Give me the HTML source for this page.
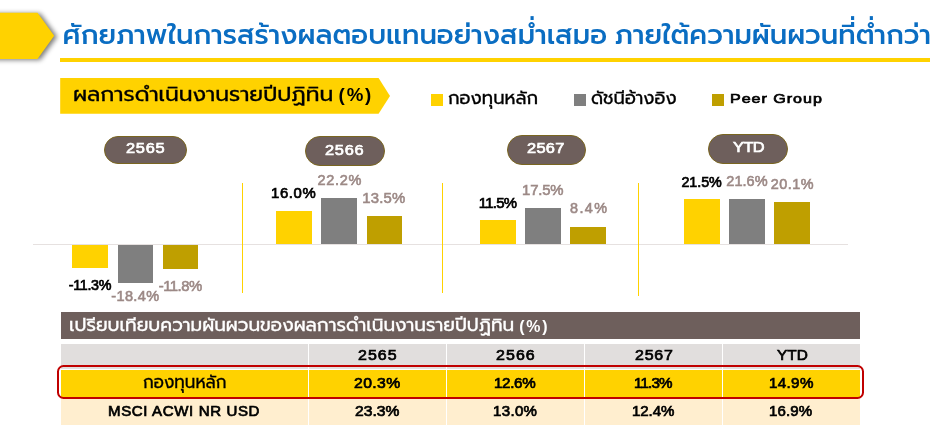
<!DOCTYPE html>
<html lang="th">
<head>
<meta charset="utf-8">
<title>ศักยภาพในการสร้างผลตอบแทนอย่างสม่ำเสมอ ภายใต้ความผันผวนที่ต่ำกว่า</title>
<style>
html,body{margin:0;padding:0;background:#fff;}
body{width:939px;height:442px;position:relative;overflow:hidden;
  font-family:"Liberation Sans","Prompt","Kanit","Noto Sans Thai",sans-serif;color:#000;}
.abs{position:absolute;}
.t{position:absolute;white-space:nowrap;line-height:1;}
/* Latin / numeric text fitted to the reference ink boxes */
.lt{position:absolute;white-space:nowrap;line-height:1;font-family:"Liberation Sans",sans-serif;font-weight:400;transform-origin:0 0;}
/* header */
#arrow{left:0;top:0;}
#title{left:62.5px;top:12.8px;font-size:27.45px;line-height:44px;color:#0a6dc2;font-weight:500;}
#rule{left:60px;top:58px;width:870px;height:3.6px;background:#ffd200;}
/* section tag */
#tag{left:60.2px;top:77.9px;width:329.8px;height:35.9px;background:#ffd200;
  clip-path:polygon(0 0,318.4px 0,329.8px 18px,318.4px 35.9px,0 35.9px);}
/* legend */
.sq{position:absolute;width:11.5px;height:11.5px;top:94.2px;}
.th{position:absolute;white-space:nowrap;line-height:1;transform-origin:0 0;}
/* pills */
.pill{position:absolute;box-sizing:border-box;background:#6e5f5c;border:1px solid #7a6620;border-radius:15px;}
/* chart */
.bar{position:absolute;}
.y{background:#ffd200;} .g{background:#7f7f7f;} .o{background:#bf9f00;}
.vl{position:absolute;width:1px;background:#ffd200;}
</style>
</head>
<body>
<svg class="abs" id="arrow" width="70" height="72" viewBox="0 0 70 72">
  <defs><filter id="sh" x="-20%" y="-20%" width="150%" height="150%"><feGaussianBlur stdDeviation="2.5"/></filter></defs>
  <polygon points="-8,13.6 40.3,13.6 57.2,36.7 40.3,59.9 -8,59.9" fill="#000" opacity=".52" filter="url(#sh)"/>
  <polygon points="-1,12.7 37.5,12.7 54.2,35.8 37.5,59 -1,59" fill="#ffd200"/>
</svg>
<div class="t" id="title">ศักยภาพในการสร้างผลตอบแทนอย่างสม่ำเสมอ ภายใต้ความผันผวนที่ต่ำกว่า</div>
<div class="abs" id="rule"></div>

<div class="abs" id="tag"></div>
<div class="th" style="left:72.60px;top:83.67px;font-size:20.27px;font-weight:400;color:#000;-webkit-text-stroke:0.3px #000;transform:scaleX(1.0786);">ผลการดำเนินงานรายปีปฏิทิน</div>
<div class="lt" style="left:338.61px;top:85.50px;font-size:18.70px;letter-spacing:1.80px;color:#000;font-weight:700;">(%)</div>

<div class="sq y" style="left:431px"></div>
<div class="th" style="left:448.17px;top:89.57px;font-size:17.73px;font-weight:400;color:#000;-webkit-text-stroke:0.3px #000;transform:scaleX(1.0209);">กองทุนหลัก</div>
<div class="sq g" style="left:574px"></div>
<div class="th" style="left:591.37px;top:89.62px;font-size:17.55px;font-weight:400;color:#000;-webkit-text-stroke:0.3px #000;transform:scaleX(1.0244);">ดัชนีอ้างอิง</div>
<div class="sq o" style="left:712.2px"></div>

<!-- year pills -->
<div class="pill" style="left:104px;top:135.8px;width:83px;height:28px"></div>
<div class="pill" style="left:305px;top:135.8px;width:80px;height:30px"></div>
<div class="pill" style="left:507px;top:134.9px;width:79px;height:29.8px"></div>
<div class="pill" style="left:708px;top:133.9px;width:80px;height:29.8px"></div>
<div class="lt" style="left:125.64px;top:141.10px;font-size:14.90px;letter-spacing:0.66px;color:#fff;-webkit-text-stroke:0.7px #fff;transform:scaleX(1.1);">2565</div>
<div class="lt" style="left:325.44px;top:142.70px;font-size:14.90px;letter-spacing:0.69px;color:#fff;-webkit-text-stroke:0.7px #fff;transform:scaleX(1.1);">2566</div>
<div class="lt" style="left:527.44px;top:141.10px;font-size:14.90px;letter-spacing:0.29px;color:#fff;-webkit-text-stroke:0.7px #fff;transform:scaleX(1.1);">2567</div>
<div class="lt" style="left:732.78px;top:140.00px;font-size:14.90px;letter-spacing:-0.50px;color:#fff;-webkit-text-stroke:0.7px #fff;transform:scaleX(1.1);">YTD</div>

<!-- axis + separators -->
<div class="abs" style="left:33.3px;top:244px;width:815.2px;height:1px;background:#e6e1e0"></div>
<div class="vl" style="left:242px;top:183.2px;height:109.7px"></div>
<div class="vl" style="left:442px;top:183.2px;height:109.7px"></div>
<div class="vl" style="left:638px;top:183.2px;height:112.6px"></div>

<!-- bars 2565 -->
<div class="bar y" style="left:72px;top:244.8px;width:36px;height:23.2px"></div>
<div class="bar g" style="left:118px;top:244.8px;width:35px;height:38px"></div>
<div class="bar o" style="left:163px;top:244.8px;width:35.2px;height:24.3px"></div>
<!-- bars 2566 -->
<div class="bar y" style="left:276px;top:210.8px;width:36px;height:33.2px"></div>
<div class="bar g" style="left:321px;top:198px;width:36.2px;height:46px"></div>
<div class="bar o" style="left:367px;top:215.9px;width:35.1px;height:28.1px"></div>
<!-- bars 2567 -->
<div class="bar y" style="left:480px;top:219.9px;width:36px;height:24.1px"></div>
<div class="bar g" style="left:525.1px;top:208px;width:36px;height:36px"></div>
<div class="bar o" style="left:570px;top:226.9px;width:36.1px;height:17.1px"></div>
<!-- bars YTD -->
<div class="bar y" style="left:684px;top:198.8px;width:36px;height:45.2px"></div>
<div class="bar g" style="left:729px;top:198.8px;width:36px;height:45.2px"></div>
<div class="bar o" style="left:774px;top:201.9px;width:36px;height:42.1px"></div>
<div class="lt" style="left:68.66px;top:278.30px;font-size:14.30px;letter-spacing:-0.29px;color:#000;-webkit-text-stroke:0.7px #000;">-11.3%</div>
<div class="lt" style="left:111.19px;top:289.10px;font-size:14.50px;letter-spacing:0.40px;color:#9c8986;-webkit-text-stroke:0.6px #9c8986;">-18.4%</div>
<div class="lt" style="left:158.78px;top:279.00px;font-size:14.90px;letter-spacing:-0.52px;color:#9c8986;-webkit-text-stroke:0.6px #9c8986;">-11.8%</div>
<div class="lt" style="left:271.03px;top:185.70px;font-size:14.90px;letter-spacing:0.63px;color:#000;-webkit-text-stroke:0.7px #000;">16.0%</div>
<div class="lt" style="left:317.41px;top:172.65px;font-size:14.50px;letter-spacing:0.69px;color:#9c8986;-webkit-text-stroke:0.6px #9c8986;">22.2%</div>
<div class="lt" style="left:362.13px;top:190.55px;font-size:14.90px;letter-spacing:0.25px;color:#9c8986;-webkit-text-stroke:0.6px #9c8986;">13.5%</div>
<div class="lt" style="left:478.63px;top:195.70px;font-size:14.90px;letter-spacing:-0.66px;color:#000;-webkit-text-stroke:0.7px #000;">11.5%</div>
<div class="lt" style="left:522.03px;top:182.60px;font-size:14.90px;letter-spacing:-0.17px;color:#9c8986;-webkit-text-stroke:0.6px #9c8986;">17.5%</div>
<div class="lt" style="left:570.09px;top:201.20px;font-size:14.40px;letter-spacing:1.35px;color:#9c8986;-webkit-text-stroke:0.6px #9c8986;">8.4%</div>
<div class="lt" style="left:681.39px;top:174.70px;font-size:14.30px;letter-spacing:-0.04px;color:#000;-webkit-text-stroke:0.7px #000;">21.5%</div>
<div class="lt" style="left:726.32px;top:173.50px;font-size:14.50px;letter-spacing:0.04px;color:#9c8986;-webkit-text-stroke:0.6px #9c8986;">21.6%</div>
<div class="lt" style="left:770.72px;top:177.20px;font-size:14.40px;letter-spacing:0.48px;color:#9c8986;-webkit-text-stroke:0.6px #9c8986;">20.1%</div>

<!-- table -->
<div class="abs" style="left:60.6px;top:312.1px;width:799.1px;height:27.3px;background:#6e5f5c"></div>
<div class="th" style="left:68.68px;top:316.72px;font-size:17.73px;font-weight:400;color:#fff;-webkit-text-stroke:0.3px #fff;transform:scaleX(1.0463);">เปรียบเทียบความผันผวนของผลการดำเนินงานรายปีปฏิทิน</div>
<div class="lt" style="left:519.15px;top:318.65px;font-size:15.90px;letter-spacing:1.83px;color:#fff;font-weight:700;">(%)</div>

<div class="abs" style="left:60.6px;top:343.5px;width:799.1px;height:25.3px;background:#e1dedd"></div>
<div class="abs" style="left:60.6px;top:370.1px;width:799.1px;height:26.5px;background:#ffd200"></div>
<div class="abs" style="left:60.6px;top:399.3px;width:799.1px;height:25.3px;background:#ffeecf"></div>
<div class="abs" style="left:307.8px;top:343px;width:1.2px;height:82px;background:#fff"></div>
<div class="abs" style="left:445.8px;top:343px;width:1.2px;height:82px;background:#fff"></div>
<div class="abs" style="left:583.9px;top:343px;width:1.2px;height:82px;background:#fff"></div>
<div class="abs" style="left:722px;top:343px;width:1.2px;height:82px;background:#fff"></div>
<div class="abs" style="left:57px;top:364.6px;width:807px;height:34.4px;box-sizing:border-box;border:2.4px solid #c00000;border-radius:6.5px"></div>
<div class="th" style="left:142.51px;top:373.67px;font-size:17.91px;font-weight:400;color:#000;-webkit-text-stroke:0.3px #000;transform:scaleX(0.9363);">กองทุนหลัก</div>
<div class="lt" style="left:358.25px;top:347.55px;font-size:14.50px;letter-spacing:0.92px;color:#000;-webkit-text-stroke:0.7px #000;transform:scaleX(1.1);">2565</div>
<div class="lt" style="left:496.05px;top:347.55px;font-size:14.50px;letter-spacing:0.98px;color:#000;-webkit-text-stroke:0.7px #000;transform:scaleX(1.1);">2566</div>
<div class="lt" style="left:634.75px;top:347.55px;font-size:14.50px;letter-spacing:0.70px;color:#000;-webkit-text-stroke:0.7px #000;transform:scaleX(1.1);">2567</div>
<div class="lt" style="left:776.76px;top:347.55px;font-size:14.50px;letter-spacing:0.02px;color:#000;-webkit-text-stroke:0.7px #000;transform:scaleX(1.06);">YTD</div>
<div class="lt" style="left:354.26px;top:375.65px;font-size:14.30px;letter-spacing:0.38px;color:#000;-webkit-text-stroke:0.7px #000;transform:scaleX(1.1);">20.3%</div>
<div class="lt" style="left:494.32px;top:375.65px;font-size:14.30px;letter-spacing:-0.30px;color:#000;-webkit-text-stroke:0.7px #000;transform:scaleX(1.06);">12.6%</div>
<div class="lt" style="left:633.82px;top:375.65px;font-size:14.30px;letter-spacing:-0.79px;color:#000;-webkit-text-stroke:0.7px #000;transform:scaleX(1.06);">11.3%</div>
<div class="lt" style="left:768.72px;top:375.65px;font-size:14.30px;letter-spacing:0.33px;color:#000;-webkit-text-stroke:0.7px #000;transform:scaleX(1.06);">14.9%</div>
<div class="lt" style="left:108.45px;top:403.60px;font-size:14.20px;letter-spacing:0.59px;color:#000;-webkit-text-stroke:0.7px #000;transform:scaleX(1.06);">MSCI ACWI NR USD</div>
<div class="lt" style="left:355.06px;top:403.60px;font-size:14.20px;letter-spacing:0.01px;color:#000;-webkit-text-stroke:0.7px #000;transform:scaleX(1.1);">23.3%</div>
<div class="lt" style="left:493.02px;top:403.60px;font-size:14.20px;letter-spacing:0.31px;color:#000;-webkit-text-stroke:0.7px #000;transform:scaleX(1.06);">13.0%</div>
<div class="lt" style="left:631.82px;top:403.60px;font-size:14.20px;letter-spacing:-0.05px;color:#000;-webkit-text-stroke:0.7px #000;transform:scaleX(1.06);">12.4%</div>
<div class="lt" style="left:769.42px;top:403.60px;font-size:14.20px;letter-spacing:0.10px;color:#000;-webkit-text-stroke:0.7px #000;transform:scaleX(1.06);">16.9%</div>
<div class="lt" style="left:729.79px;top:91.80px;font-size:13.40px;letter-spacing:0.81px;color:#000;-webkit-text-stroke:0.7px #000;transform:scaleX(1.2);">Peer Group</div>
</body>
</html>
